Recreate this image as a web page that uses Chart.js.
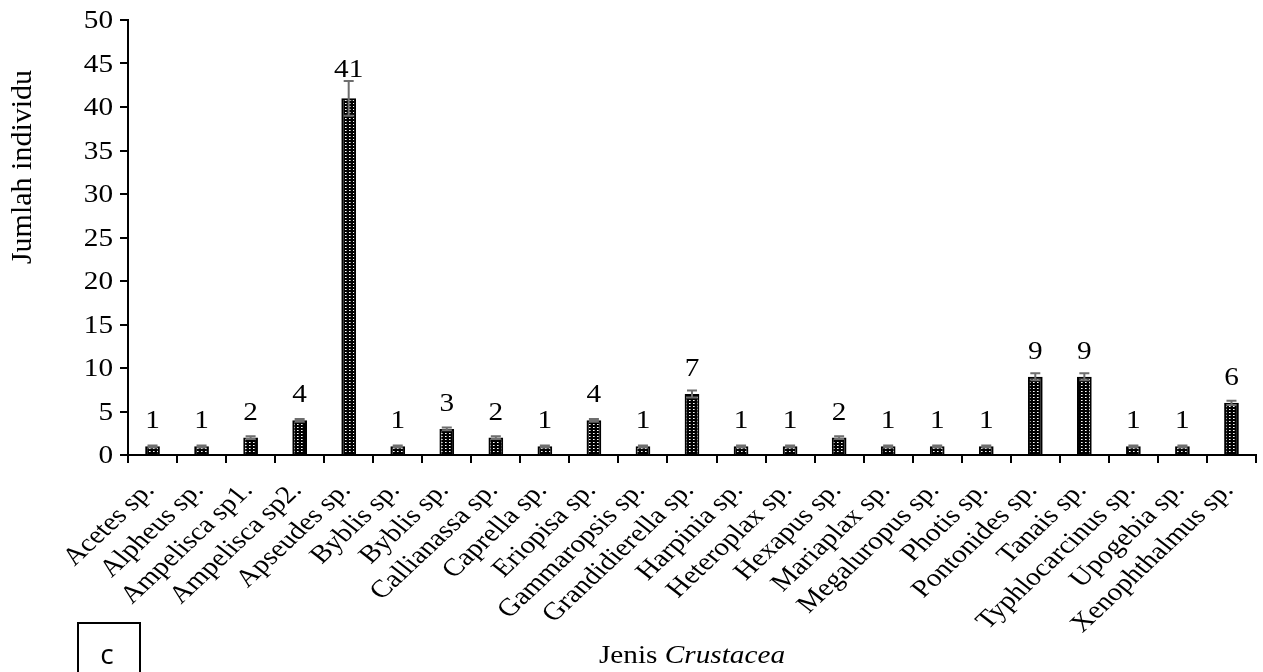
<!DOCTYPE html>
<html>
<head>
<meta charset="utf-8">
<title>Jumlah individu per jenis Crustacea</title>
<script src="https://cdn.jsdelivr.net/npm/chart.js@4.4.1/dist/chart.umd.min.js"></script>
<style>
  html, body { margin: 0; padding: 0; background: #fff; }
  #wrap { position: relative; width: 1263px; height: 672px; }
</style>
</head>
<body>
<div id="wrap"><canvas id="chart" width="1263" height="672"></canvas></div>
<script>
// Species (x categories), individual counts and their error half-ranges
const categories = [
  'Acetes sp.', 'Alpheus sp.', 'Ampelisca sp1.', 'Ampelisca sp2.', 'Apseudes sp.',
  'Byblis sp.', 'Byblis sp.', 'Callianassa sp.', 'Caprella sp.', 'Eriopisa sp.',
  'Gammaropsis sp.', 'Grandidierella sp.', 'Harpinia sp.', 'Heteroplax sp.', 'Hexapus sp.',
  'Mariaplax sp.', 'Megaluropus sp.', 'Photis sp.', 'Pontonides sp.', 'Tanais sp.',
  'Typhlocarcinus sp.', 'Upogebia sp.', 'Xenophthalmus sp.'
];
const counts = [1, 1, 2, 4, 41, 1, 3, 2, 1, 4, 1, 7, 1, 1, 2, 1, 1, 1, 9, 9, 1, 1, 6];
const errors = [0.1, 0.1, 0.15, 0.15, 2, 0.1, 0.15, 0.15, 0.1, 0.15, 0.1, 0.4, 0.1, 0.1, 0.15, 0.1, 0.1, 0.1, 0.4, 0.4, 0.1, 0.1, 0.25];
const yTickValues = [0, 5, 10, 15, 20, 25, 30, 35, 40, 45, 50];
const yTitle = 'Jumlah individu';
const xTitleParts = [['Jenis ', false], ['Crustacea', true]];
const panelTag = 'c';

const SERIF = '"Liberation Serif", "Times New Roman", serif';
const SANS = '"Open Sans", "Liberation Sans", sans-serif';
const WIDEN = 1.17;         // horizontal widening of the lettering
const FONT_PX = 25;

const canvas = document.getElementById('chart');
const ctx0 = canvas.getContext('2d');

// black bar fill with small white dots
function dottedFill() {
  const tile = document.createElement('canvas');
  tile.width = 4; tile.height = 3;
  const g = tile.getContext('2d');
  g.fillStyle = '#000'; g.fillRect(0, 0, 4, 3);
  g.fillStyle = '#fff'; g.fillRect(1, 1, 1, 1);
  g.fillStyle = '#9a9a9a'; g.fillRect(2, 1, 1, 1);
  return ctx0.createPattern(tile, 'repeat');
}

function wideText(ctx, text, x, y, font, align, baseline, rotation) {
  ctx.save();
  ctx.translate(x, y);
  ctx.scale(WIDEN, 1);
  if (rotation) ctx.rotate(rotation);
  ctx.font = font;
  ctx.fillStyle = '#000';
  ctx.textAlign = align;
  ctx.textBaseline = baseline;
  ctx.fillText(text, 0, 0);
  ctx.restore();
}

// grey error bars with caps
const errorBars = {
  id: 'errorBars',
  afterDatasetsDraw(chart) {
    const ctx = chart.ctx, y = chart.scales.y;
    const meta = chart.getDatasetMeta(0);
    ctx.save();
    ctx.strokeStyle = '#6e6e6e';
    ctx.lineWidth = 2;
    meta.data.forEach((bar, i) => {
      const e = errors[i];
      const yt = y.getPixelForValue(counts[i] + e);
      const yb = y.getPixelForValue(counts[i] - e);
      ctx.beginPath();
      ctx.moveTo(bar.x, yt); ctx.lineTo(bar.x, yb);
      ctx.moveTo(bar.x - 5, yt); ctx.lineTo(bar.x + 5, yt);
      ctx.moveTo(bar.x - 5, yb); ctx.lineTo(bar.x + 5, yb);
      ctx.stroke();
    });
    ctx.restore();
  }
};

// tick labels, value labels, axis titles and panel tag
const lettering = {
  id: 'lettering',
  afterDraw(chart) {
    const ctx = chart.ctx, x = chart.scales.x, y = chart.scales.y;
    const area = chart.chartArea;
    const font = FONT_PX + 'px ' + SERIF;

    // y tick labels
    y.ticks.forEach(t => {
      wideText(ctx, String(t.value), area.left - 15, y.getPixelForValue(t.value) + 8, font, 'right', 'alphabetic');
    });

    // x tick labels, slanted
    categories.forEach((label, i) => {
      const px = x.getPixelForValue(i);
      wideText(ctx, label, px + 3, area.bottom + 36, font, 'right', 'alphabetic', -47.6 * Math.PI / 180);
    });

    // value labels above the bars
    const meta = chart.getDatasetMeta(0);
    meta.data.forEach((bar, i) => {
      const top = y.getPixelForValue(counts[i]);
      const errTop = y.getPixelForValue(counts[i] + errors[i]);
      const base = Math.min(top - 18, errTop - 4);
      wideText(ctx, String(counts[i]), bar.x, base, font, 'center', 'alphabetic');
    });

    // y axis title
    ctx.save();
    ctx.translate(23, area.top + (area.bottom - area.top) * 0.338);
    ctx.rotate(-Math.PI / 2);
    ctx.font = '30px ' + SERIF;
    ctx.fillStyle = '#000';
    ctx.textAlign = 'center';
    ctx.textBaseline = 'middle';
    ctx.fillText(yTitle, 0, 0);
    ctx.restore();

    // x axis title with italic taxon name
    ctx.save();
    const fonts = xTitleParts.map(([, it]) => (it ? 'italic ' : '') + FONT_PX + 'px ' + SERIF);
    const widths = xTitleParts.map(([t], k) => { ctx.font = fonts[k]; return ctx.measureText(t).width * WIDEN; });
    let cx = (area.left + area.right) / 2 - widths.reduce((a, b) => a + b, 0) / 2;
    xTitleParts.forEach(([t], k) => {
      wideText(ctx, t, cx, 663, fonts[k], 'left', 'alphabetic');
      cx += widths[k];
    });
    ctx.restore();

    // panel tag box
    ctx.save();
    ctx.strokeStyle = '#000';
    ctx.lineWidth = 2;
    ctx.strokeRect(78, 623, 62, 60);
    ctx.font = '28px ' + SANS;
    ctx.fillStyle = '#000';
    ctx.textAlign = 'center';
    ctx.textBaseline = 'alphabetic';
    ctx.fillText(panelTag, 107, 664);
    ctx.restore();
  }
};

new Chart(canvas, {
  type: 'bar',
  data: {
    labels: categories,
    datasets: [{
      data: counts,
      backgroundColor: dottedFill(),
      borderColor: '#000',
      borderWidth: 2,
      borderSkipped: 'start',
      categoryPercentage: 1,
      barPercentage: 0.3
    }]
  },
  options: {
    responsive: false,
    animation: false,
    layout: { padding: { top: 20, right: 7, left: 0, bottom: 0 } },
    plugins: { legend: { display: false }, tooltip: { enabled: false } },
    scales: {
      x: {
        grid: { display: true, drawOnChartArea: false, drawTicks: true, tickLength: 8, color: '#000', lineWidth: 2, offset: true },
        border: { display: true, color: '#000', width: 2 },
        ticks: { display: false },
        afterFit(scale) { scale.height = 672 - 455; }
      },
      y: {
        min: 0, max: 50,
        afterBuildTicks(scale) { scale.ticks = yTickValues.map(v => ({ value: v })); },
        grid: { display: true, drawOnChartArea: false, drawTicks: true, tickLength: 8, color: '#000', lineWidth: 2 },
        border: { display: true, color: '#000', width: 2 },
        ticks: { display: false },
        afterFit(scale) { scale.width = 128; }
      }
    }
  },
  plugins: [errorBars, lettering]
});
</script>
</body>
</html>
